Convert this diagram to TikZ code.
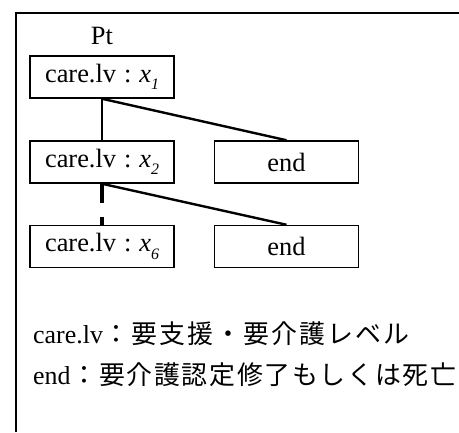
\documentclass[tikz,border=0pt]{standalone}
\usepackage{fontspec}
\setmainfont{Liberation Serif}
\newfontfamily\jp{Noto Sans CJK JP}
\newlength\spw
\def\spaced#1#2{\setlength\spw{#1}\spacedi#2\relax}
\def\spacedi#1{\ifx\relax#1\else\makebox[\spw][c]{#1}\expandafter\spacedi\fi}
\newcommand\sublbl[1]{\textit{x}\raisebox{-0.28em}{\fontsize{16}{18}\selectfont\textit{#1}}}
\begin{document}
\begin{tikzpicture}[x=1bp,y=-1bp,
  box/.style={draw,line width=1.5bp,minimum width=144bp,minimum height=42bp,inner sep=0pt,font=\fontsize{26.5}{30}\selectfont},
  lbl/.style={inner sep=0pt,font=\fontsize{26}{30}\selectfont,anchor=base west},
  thinline/.style={line width=1.4bp},
  thickline/.style={line width=2.4bp},
  dashline/.style={line width=4bp,dash pattern=on 19bp off 14bp}]
\useasboundingbox (0,0) rectangle (459,432);
\draw[line width=1.8bp] (16,432) -- (16,13) -- (459,13);
\node[inner sep=0pt,font=\fontsize{26.5}{30}\selectfont,anchor=base] (pt) at (102,44) {Pt};
\node[box] (b1) at (102,77) {care.lv\hspace{0.3em}:\hspace{0.3em}\sublbl{1}};
\node[box] (b2) at (102,162) {care.lv\hspace{0.3em}:\hspace{0.3em}\sublbl{2}};
\node[box] (e1) at (286.5,162) {end};
\node[box] (b3) at (102,246.5) {care.lv\hspace{0.3em}:\hspace{0.3em}\sublbl{6}};
\node[box] (e2) at (286.5,246.5) {end};
\draw[thinline] (b1.south) -- (b2.north);
\draw[thickline] (b1.south) -- (e1.north);
\draw[dashline] (b2.south) -- (b3.north);
\draw[thickline] (b2.south) -- (e2.north);
\node[lbl] (l1) at (33,343) {care.lv{\jp\fontsize{26}{30}\selectfont\spaced{28bp}{：要支援・要介護レベル}}};
\node[lbl] (l2) at (33,384) {end{\jp\fontsize{26}{30}\selectfont\spaced{27.6bp}{：要介護認定修了もしくは死亡}}};
\end{tikzpicture}
\end{document}
